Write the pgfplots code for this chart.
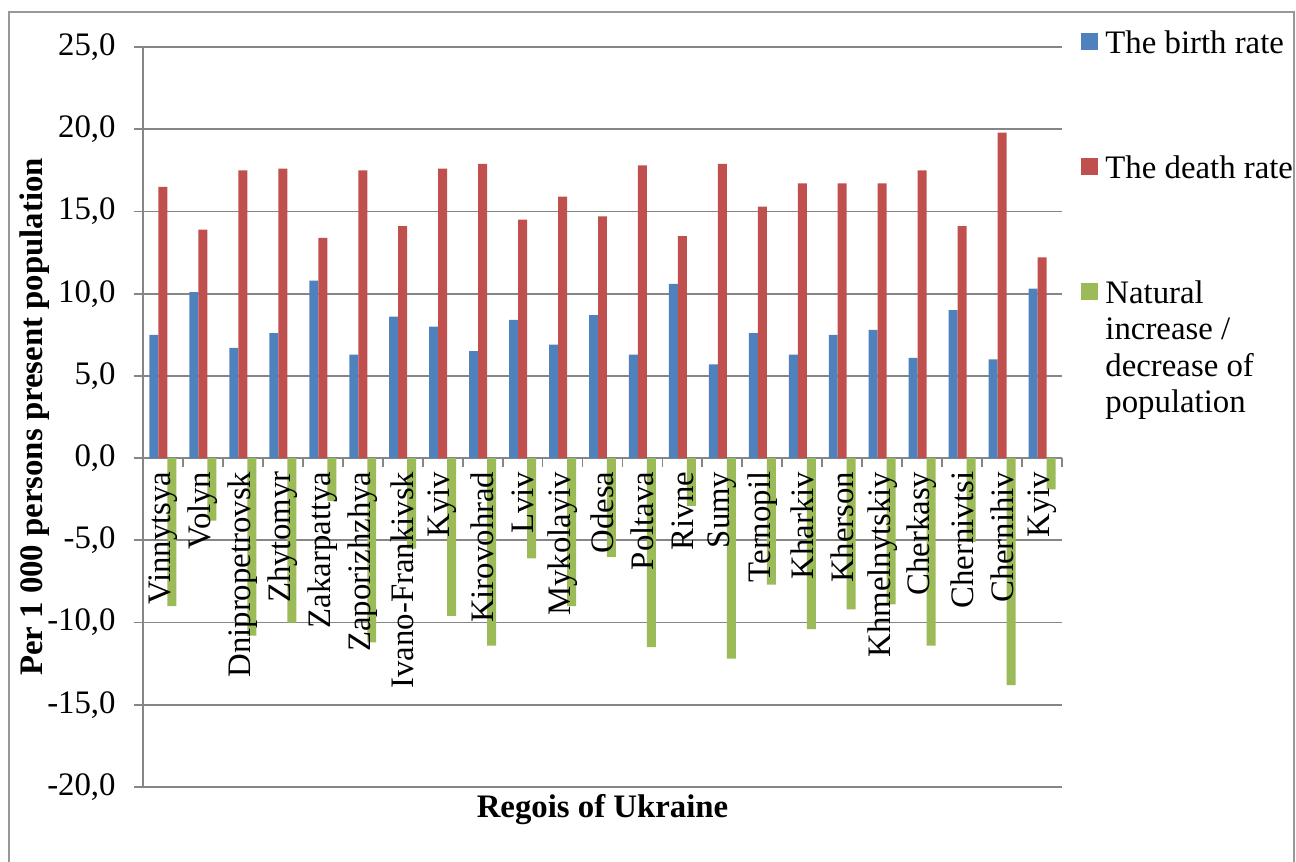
\documentclass[border=0pt]{standalone}
\usepackage{fontspec}
\setmainfont{Liberation Serif}
\usepackage{pgfplots}
\pgfplotsset{compat=1.18}
\definecolor{cblue}{HTML}{4F81BD}
\definecolor{cred}{HTML}{C0504D}
\definecolor{cgreen}{HTML}{9BBB59}
\definecolor{cgrid}{HTML}{868686}
\newcommand\lstrut{\rule[-6pt]{0pt}{20pt}}
\begin{document}
\fontsize{16.4}{20}\selectfont
\begin{tikzpicture}
\path[use as bounding box] (-71.5pt,-37.5pt) rectangle (576.5pt,393.5pt);
\draw[cgrid!85, line width=0.9pt] (-67pt,-45pt) rectangle (575.5pt,387.5pt);
\begin{axis}[
  at={(0pt,0pt)}, anchor=south west,
  scale only axis, width=459.5pt, height=370pt,
  ybar=0pt, bar width=0.225,
  xmin=-0.5, xmax=22.5, ymin=-20, ymax=25,
  axis x line=middle, axis y line=left,
  hide obscured x ticks=false, hide obscured y ticks=false,
  axis line style={-, draw=cgrid, line width=0.9pt},
  ymajorgrids, grid style={draw=cgrid, line width=0.9pt},
  ytick={-20,-15,...,25},
  tick align=outside,
  major tick length=4.5pt,
  tick style={draw=cgrid, line width=0.9pt},
  yticklabel style={inner sep=0pt, xshift=-9pt, /pgf/number format/.cd, fixed, fixed zerofill, precision=1, use comma, assume math mode=true},
  xtick={-0.5,0.5,...,22.5},
  xticklabel=\empty,
  clip=false,
  every axis y label/.style={at={(rel axis cs:0,0.5)}, xshift=-54pt, rotate=90, anchor=center, inner sep=0pt},
  every axis x label/.style={at={(rel axis cs:0.5,0)}, anchor=north, yshift=-3.5pt, inner sep=0pt},
  ylabel={\bfseries Per 1 000 persons present population},
  xlabel={\bfseries Regois of Ukraine},
  legend style={at={(1.0207,1.0300)}, anchor=north west, draw=none, fill=none, inner sep=0pt, row sep=46pt, nodes={inner sep=0pt}},
  legend cell align=left,
  legend image code/.code={\fill[#1] (0pt,-4.25pt) rectangle (8.5pt,4.25pt); \path (12pt,0pt);},
]
\addplot[fill=cblue, draw=none] coordinates {
(0,7.5) (1,10.1) (2,6.7) (3,7.6) (4,10.8) (5,6.3) (6,8.6) (7,8.0) (8,6.5) (9,8.4) (10,6.9) (11,8.7) (12,6.3) (13,10.6) (14,5.7) (15,7.6) (16,6.3) (17,7.5) (18,7.8) (19,6.1) (20,9.0) (21,6.0) (22,10.3)};
\addplot[fill=cred, draw=none] coordinates {
(0,16.5) (1,13.9) (2,17.5) (3,17.6) (4,13.4) (5,17.5) (6,14.1) (7,17.6) (8,17.9) (9,14.5) (10,15.9) (11,14.7) (12,17.8) (13,13.5) (14,17.9) (15,15.3) (16,16.7) (17,16.7) (18,16.7) (19,17.5) (20,14.1) (21,19.8) (22,12.2)};
\addplot[fill=cgreen, draw=none] coordinates {
(0,-9.0) (1,-3.8) (2,-10.8) (3,-10.0) (4,-2.6) (5,-11.2) (6,-5.5) (7,-9.6) (8,-11.4) (9,-6.1) (10,-9.0) (11,-6.0) (12,-11.5) (13,-2.9) (14,-12.2) (15,-7.7) (16,-10.4) (17,-9.2) (18,-8.9) (19,-11.4) (20,-5.1) (21,-13.8) (22,-1.9)};
\legend{\lstrut The birth rate, \lstrut The death rate, {\parbox[t]{80pt}{\fontsize{16.4}{18.25}\selectfont\lstrut Natural\\increase /\\decrease of\\population}}}
\tikzset{xl/.style={rotate=90, anchor=east, inner sep=0pt}}
\node[xl] at (axis cs:0,-0.8) {Vinnytsya};
\node[xl] at (axis cs:1,-0.8) {Volyn};
\node[xl] at (axis cs:2,-0.8) {Dnipropetrovsk};
\node[xl] at (axis cs:3,-0.8) {Zhytomyr};
\node[xl] at (axis cs:4,-0.8) {Zakarpattya};
\node[xl] at (axis cs:5,-0.8) {Zaporizhzhya};
\node[xl] at (axis cs:6,-0.8) {Ivano-Frankivsk};
\node[xl] at (axis cs:7,-0.8) {Kyiv};
\node[xl] at (axis cs:8,-0.8) {Kirovohrad};
\node[xl] at (axis cs:9,-0.8) {Lviv};
\node[xl] at (axis cs:10,-0.8) {Mykolayiv};
\node[xl] at (axis cs:11,-0.8) {Odesa};
\node[xl] at (axis cs:12,-0.8) {Poltava};
\node[xl] at (axis cs:13,-0.8) {Rivne};
\node[xl] at (axis cs:14,-0.8) {Sumy};
\node[xl] at (axis cs:15,-0.8) {Ternopil};
\node[xl] at (axis cs:16,-0.8) {Kharkiv};
\node[xl] at (axis cs:17,-0.8) {Kherson};
\node[xl] at (axis cs:18,-0.8) {Khmelnytskiy};
\node[xl] at (axis cs:19,-0.8) {Cherkasy};
\node[xl] at (axis cs:20,-0.8) {Chernivtsi};
\node[xl] at (axis cs:21,-0.8) {Chernihiv};
\node[xl] at (axis cs:22,-0.8) {Kyiv};
\end{axis}
\end{tikzpicture}
\end{document}
